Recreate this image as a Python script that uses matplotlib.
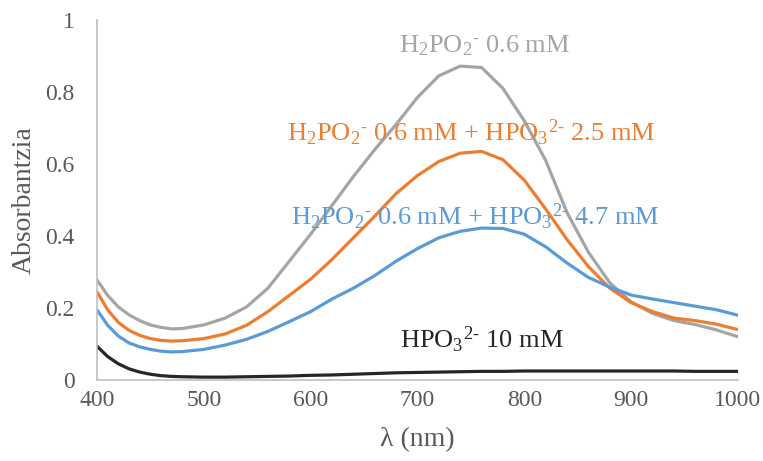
import matplotlib
matplotlib.use("Agg")
import matplotlib.pyplot as plt

plt.rcParams['font.family'] = ['Liberation Serif', 'DejaVu Serif']
plt.rcParams['mathtext.fontset'] = 'custom'
plt.rcParams['mathtext.rm'] = 'Liberation Serif'
plt.rcParams['mathtext.it'] = 'Liberation Serif:italic'

# wavelength (nm)
wl = [400, 410, 420, 430, 440, 450, 460, 470, 480, 500, 520, 540, 560, 580, 600, 620, 640,
      660, 680, 700, 720, 740, 760, 780, 800, 820, 840, 860, 880, 900, 920, 940, 960, 980, 1000]

gray = [0.278, 0.235, 0.203, 0.181, 0.165, 0.153, 0.146, 0.142, 0.143, 0.153, 0.172, 0.203,
        0.255, 0.33, 0.405, 0.485, 0.565, 0.64, 0.71, 0.785, 0.845, 0.872, 0.868, 0.81, 0.72,
        0.61, 0.465, 0.355, 0.27, 0.217, 0.185, 0.165, 0.154, 0.139, 0.12]
orange = [0.245, 0.195, 0.16, 0.138, 0.124, 0.115, 0.110, 0.108, 0.109, 0.115, 0.128, 0.152,
          0.19, 0.235, 0.28, 0.335, 0.395, 0.455, 0.518, 0.568, 0.607, 0.63, 0.635, 0.612,
          0.555, 0.475, 0.39, 0.315, 0.255, 0.215, 0.19, 0.172, 0.165, 0.155, 0.14]
blue = [0.195, 0.152, 0.122, 0.103, 0.092, 0.085, 0.080, 0.078, 0.079, 0.085, 0.097, 0.113,
        0.135, 0.162, 0.19, 0.225, 0.255, 0.29, 0.33, 0.365, 0.395, 0.413, 0.422, 0.421,
        0.405, 0.37, 0.325, 0.285, 0.258, 0.236, 0.225, 0.215, 0.205, 0.195, 0.18]
black = [0.094, 0.065, 0.045, 0.031, 0.022, 0.016, 0.012, 0.010, 0.009, 0.008, 0.008, 0.009,
         0.010, 0.011, 0.013, 0.014, 0.016, 0.018, 0.020, 0.021, 0.022, 0.023, 0.024, 0.024,
         0.025, 0.025, 0.025, 0.025, 0.025, 0.025, 0.025, 0.025, 0.024, 0.024, 0.024]

series = [
    (gray, '#a5a5a5', r'H$_2$PO$_2$$^{\text{-}}$ 0.6 mM', 763, 0.93),
    (orange, '#ed7d31', r'H$_2$PO$_2$$^{\text{-}}$ 0.6 mM + HPO$_3$$^{2\text{-}}$ 2.5 mM', 750, 0.686),
    (blue, '#5b9bd5', r'H$_2$PO$_2$$^{\text{-}}$ 0.6 mM + HPO$_3$$^{2\text{-}}$ 4.7 mM', 754, 0.453),
    (black, '#262626', r'HPO$_3$$^{2\text{-}}$ 10 mM', 760, 0.11),
]

fig = plt.figure(figsize=(7.63, 4.61), dpi=100)
ax = fig.add_axes([0.1271, 0.1757, 0.8401, 0.7809])

for ys, c, label, tx, ty in series:
    ax.plot(wl, ys, color=c, lw=2.3, solid_capstyle='round', solid_joinstyle='round')
    ax.text(tx, ty, label, color=c, fontsize=19, ha='center', va='center')

ax.set_xlim(400, 1000)
ax.set_ylim(0, 1)
ax.set_xticks(range(400, 1001, 100))
ax.set_yticks([0, 0.2, 0.4, 0.6, 0.8, 1])
ax.set_yticklabels(['0', '0.2', '0.4', '0.6', '0.8', '1'])
for s in ['top', 'right']:
    ax.spines[s].set_visible(False)
for s in ['left', 'bottom']:
    ax.spines[s].set_color('#bfbfbf')
    ax.spines[s].set_linewidth(1.2)
ax.tick_params(length=0, labelsize=17, colors='#595959')
ax.tick_params(axis='y', pad=16)
ax.tick_params(axis='x', pad=7)
ax.set_xlabel('λ (nm)', fontsize=20, color='#595959', labelpad=12)
ax.set_ylabel('Absorbantzia', fontsize=20, color='#595959', labelpad=6)

fig.savefig('out.png', dpi=100)
